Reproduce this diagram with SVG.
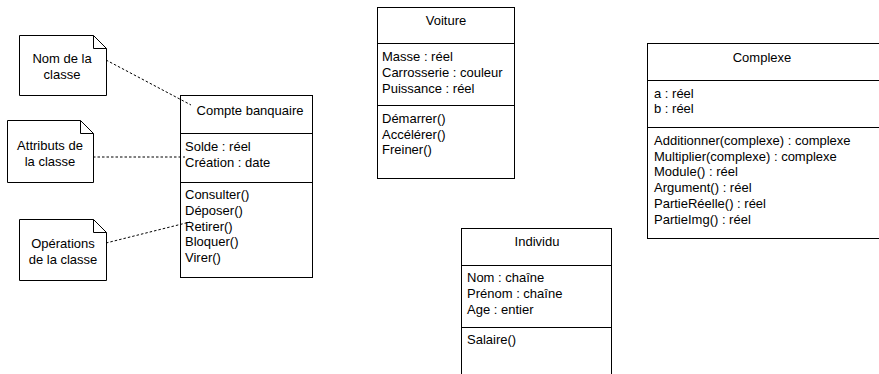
<svg xmlns="http://www.w3.org/2000/svg" width="879" height="374" viewBox="0 0 879 374">
<style>
text{font-family:"Liberation Sans",Arial,sans-serif;font-size:13px;fill:#000}
.c{text-anchor:middle}
.box{fill:#fff;stroke:#000;stroke-width:1}
.ln{stroke:#000;stroke-width:1;fill:none}
.dash{stroke:#000;stroke-width:1;fill:none;stroke-dasharray:2.5 2}
</style>
<rect width="879" height="374" fill="#fff"/>
<g id="note-nom">
<path class="box" d="M19.5,35.5 H93.5 L106.5,48.5 V95.5 H19.5 Z"/>
<path class="ln" d="M93.5,35.5 V48.5 H106.5"/>
<text class="c" x="62" y="63">Nom de la</text>
<text class="c" x="62" y="79">classe</text>
</g>
<g id="note-attributs">
<path class="box" d="M7.5,120.5 H80.5 L93.5,133.5 V182.5 H7.5 Z"/>
<path class="ln" d="M80.5,120.5 V133.5 H93.5"/>
<text class="c" x="50" y="150">Attributs de</text>
<text class="c" x="50" y="166">la classe</text>
</g>
<g id="note-operations">
<path class="box" d="M19.5,219.5 H93.5 L106.5,232.5 V280.5 H19.5 Z"/>
<path class="ln" d="M93.5,219.5 V232.5 H106.5"/>
<text class="c" x="63" y="248">Opérations</text>
<text class="c" x="63" y="264">de la classe</text>
</g>
<g id="compte-banquaire">
<rect class="box" x="180.5" y="95.5" width="132" height="182"/>
<path class="ln" d="M180.5,133.5 H312.5 M180.5,182.5 H312.5"/>
<text class="c" x="250" y="115">Compte banquaire</text>
<text x="185" y="151">Solde : réel</text>
<text x="185" y="167">Création : date</text>
<text x="185" y="199">Consulter()</text>
<text x="185" y="215">Déposer()</text>
<text x="185" y="231">Retirer()</text>
<text x="185" y="246">Bloquer()</text>
<text x="185" y="262">Virer()</text>
</g>
<g id="voiture">
<rect class="box" x="377.5" y="7.5" width="137" height="171"/>
<path class="ln" d="M377.5,43.5 H514.5 M377.5,105.5 H514.5"/>
<text class="c" x="446" y="25">Voiture</text>
<text x="382" y="61">Masse : réel</text>
<text x="382" y="77">Carrosserie : couleur</text>
<text x="382" y="93">Puissance : réel</text>
<text x="382" y="123">Démarrer()</text>
<text x="382" y="139">Accélérer()</text>
<text x="382" y="154">Freiner()</text>
</g>
<g id="complexe">
<rect class="box" x="647.5" y="43.5" width="233" height="195"/>
<path class="ln" d="M647.5,80.5 H880 M647.5,127.5 H880"/>
<text class="c" x="762" y="62">Complexe</text>
<text x="654" y="98">a : réel</text>
<text x="654" y="113">b : réel</text>
<text x="654" y="145">Additionner(complexe) : complexe</text>
<text x="654" y="161">Multiplier(complexe) : complexe</text>
<text x="654" y="176">Module() : réel</text>
<text x="654" y="192">Argument() : réel</text>
<text x="654" y="208">PartieRéelle() : réel</text>
<text x="654" y="224">PartieImg() : réel</text>
</g>
<g id="individu">
<rect class="box" x="461.5" y="228.5" width="150" height="160"/>
<path class="ln" d="M461.5,265.5 H611.5 M461.5,327.5 H611.5"/>
<text class="c" x="537" y="246">Individu</text>
<text x="467" y="282">Nom : chaîne</text>
<text x="467" y="298">Prénom : chaîne</text>
<text x="467" y="314">Age : entier</text>
<text x="467" y="344">Salaire()</text>
</g>
<g id="connectors">
<path class="dash" d="M106,60 L191,105"/>
<path class="dash" d="M93,157 L185,157"/>
<path class="dash" d="M106,243 L190,222"/>
</g>
</svg>
